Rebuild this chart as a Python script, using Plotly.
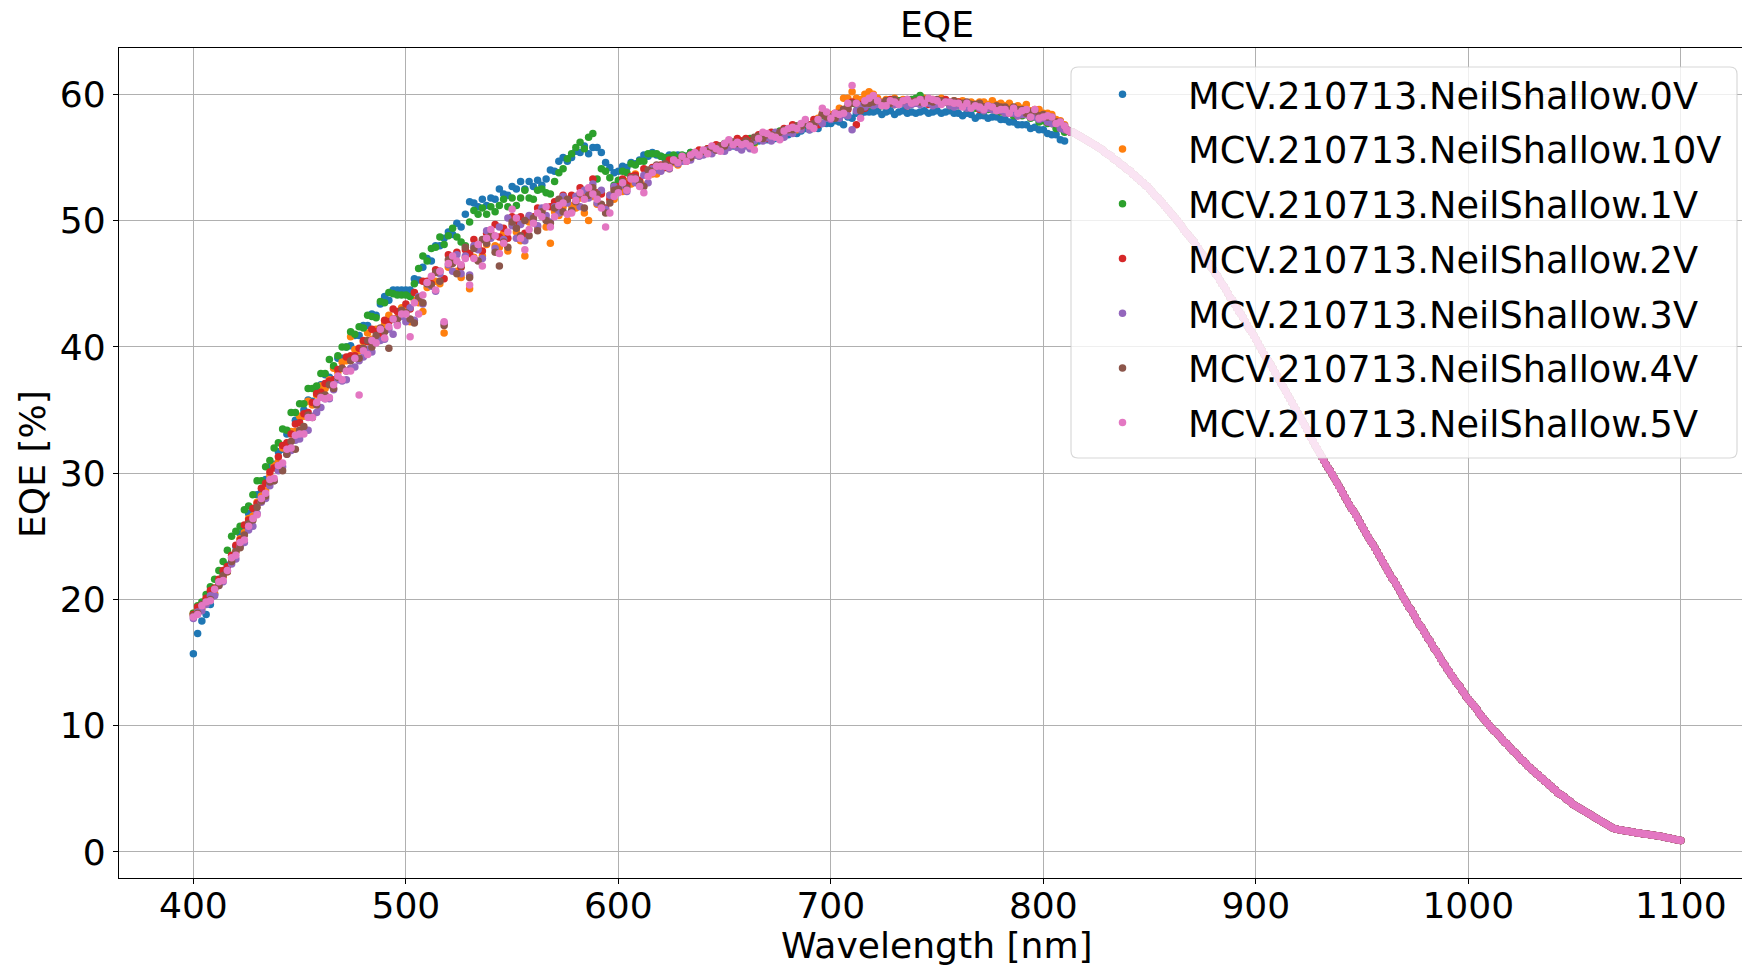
import plotly.graph_objects as go

# ---------------- data ----------------
series_names = [
    "MCV.210713.NeilShallow.0V",
    "MCV.210713.NeilShallow.10V",
    "MCV.210713.NeilShallow.1V",
    "MCV.210713.NeilShallow.2V",
    "MCV.210713.NeilShallow.3V",
    "MCV.210713.NeilShallow.4V",
    "MCV.210713.NeilShallow.5V",
]
series_colors = ["#1f77b4", "#ff7f0e", "#2ca02c", "#d62728", "#9467bd", "#8c564b", "#e377c2"]

# wavelengths of the noisy part (400-810 nm, 2 nm steps) and the smooth tail (811-1100 nm)
wl_head = list(range(400, 811, 2))
wl_tail = list(range(811, 1101))

# central EQE level of the noisy part [%]
eqe_center = [
    18.6, 19.0, 19.4, 19.8, 20.2, 20.7, 21.2, 21.7, 22.3, 23.0,
    23.6, 24.3, 25.0, 25.7, 26.4, 27.1, 27.8, 28.5, 29.2, 29.8,
    30.5, 31.1, 31.7, 32.2, 32.7, 33.2, 33.7, 34.2, 34.7, 35.2,
    35.7, 36.1, 36.5, 36.9, 37.3, 37.7, 38.1, 38.5, 38.9, 39.2,
    39.6, 39.9, 40.2, 40.5, 40.8, 41.1, 41.4, 41.7, 42.0, 42.3,
    42.5, 42.8, 43.1, 43.4, 43.8, 44.2, 44.6, 45.0, 45.4, 45.7,
    46.0, 46.3, 46.5, 46.7, 46.9, 47.2, 47.4, 47.6, 47.8, 48.0,
    48.2, 48.4, 48.6, 48.7, 48.9, 49.1, 49.3, 49.4, 49.6, 49.7,
    49.9, 50.0, 50.2, 50.3, 50.5, 50.6, 50.8, 50.9, 51.1, 51.2,
    51.3, 51.4, 51.5, 51.6, 51.7, 51.8, 51.9, 52.0, 52.2, 52.3,
    52.5, 52.7, 52.9, 53.1, 53.3, 53.4, 53.6, 53.8, 53.9, 54.1,
    54.2, 54.3, 54.5, 54.6, 54.7, 54.8, 54.9, 55.1, 55.2, 55.3,
    55.4, 55.5, 55.6, 55.7, 55.8, 55.9, 56.0, 56.1, 56.1, 56.2,
    56.3, 56.4, 56.5, 56.5, 56.6, 56.7, 56.8, 56.9, 56.9, 57.0,
    57.1, 57.2, 57.3, 57.4, 57.5, 57.6, 57.7, 57.8, 58.0, 58.1,
    58.2, 58.3, 58.4, 58.5, 58.7, 58.8, 58.9, 59.0, 59.1, 59.2,
    59.3, 59.3, 59.3, 59.4, 59.4, 59.4, 59.4, 59.4, 59.4, 59.4,
    59.4, 59.4, 59.4, 59.4, 59.4, 59.4, 59.4, 59.4, 59.3, 59.3,
    59.3, 59.2, 59.2, 59.2, 59.1, 59.1, 59.0, 59.0, 59.0, 58.9,
    58.9, 58.8, 58.8, 58.7, 58.7, 58.6, 58.5, 58.5, 58.4, 58.3,
    58.2, 58.1, 57.9, 57.8, 57.6, 57.4,
]

# per-series scatter of each point around that level (400-810 nm) [% points]
dev_0V = [
    -2.9, -1.7, -1.1, -1.0, -0.6, -0.3, 0.0, 0.2, 0.4, 0.3,
    0.6, 0.9, 0.5, 1.1, 0.8, 1.2, 0.7, 1.0, 1.3, 0.9,
    1.2, 0.8, 1.4, 1.0, 1.5, 1.1, 1.3, 1.6, 1.0, 1.4,
    1.3, 1.7, 1.1, 1.5, 1.8, 1.4, 1.9, 1.6, 2.0, 1.7,
    2.1, 1.8, 2.4, 2.0, 2.6, 2.9, 2.3, 2.8, 2.5, 2.2,
    2.0, 1.7, 2.3, 1.9, 2.5, 2.8, 2.2, 3.0, 2.6, 2.9,
    3.1, 2.6, 3.3, 2.8, 3.6, 4.3, 4.0, 3.5, 3.9, 3.2,
    3.6, 3.3, 3.9, 3.4, 3.1, 3.6, 3.2, 3.7, 2.9, 3.4,
    2.8, 3.2, 2.6, 3.0, 3.5, 3.3, 3.9, 4.1, 3.6, 3.8,
    4.2, 4.0, 4.4, 3.7, 4.1, 4.0, 3.5, 2.6, 2.0, 1.5,
    1.4, 1.6, 1.3, 1.5, 1.2, 1.4, 1.6, 1.3, 1.5, 1.1,
    0.9, 0.6, 0.7, 0.4, 0.5, 0.3, 0.2, 0.3, 0.1, 0.2,
    0.0, 0.1, -0.1, 0.0, -0.2, -0.1, 0.0, -0.2, -0.1, -0.2,
    -0.2, -0.1, -0.3, -0.2, -0.1, -0.3, -0.2, -0.4, -0.2, -0.3,
    -0.3, -0.2, -0.4, -0.3, -0.2, -0.4, -0.3, -0.5, -0.3, -0.4,
    -0.5, -0.4, -0.6, -0.9, -0.5, -0.7, -0.4, -0.6, -0.5, -0.6,
    -0.7, -0.6, -0.9, -0.8, -0.7, -1.0, -0.8, -0.7, -0.9, -0.8,
    -0.9, -0.8, -0.7, -0.9, -0.8, -0.7, -0.9, -0.8, -0.6, -0.8,
    -0.8, -0.9, -0.7, -0.8, -1.0, -0.8, -0.7, -0.9, -0.8, -0.7,
    -0.9, -0.8, -1.0, -0.9, -1.1, -1.0, -0.9, -1.2, -1.0, -1.1,
    -1.0, -1.2, -1.1, -1.0, -1.2, -1.1,
]
dev_10V = [
    0.3, 0.1, -0.1, 0.2, 0.0, -0.2, 0.3, 0.1, -0.1, 0.2,
    0.2, 0.5, 0.3, 0.7, 0.2, 0.6, 0.4, 0.1, 0.6, 0.8,
    0.4, 0.9, 0.3, 1.1, 0.6, 1.3, 0.8, 1.5, 0.7, 1.0,
    1.2, 0.6, 0.9, 1.4, 0.7, 1.1, 0.8, 2.3, 0.9, 0.5,
    0.8, 1.2, 0.4, 0.9, 0.2, 0.7, 1.1, 0.5, 0.3, 0.8,
    0.4, -0.8, 0.6, 0.1, -1.0, 0.5, 0.8, 0.2, -0.4, -4.6,
    0.3, 0.6, -0.5, -1.2, 0.2, -2.6, -0.3, 0.4, -0.6, 0.1,
    0.5, -0.4, -0.7, 0.3, -1.3, 0.6, -0.2, -1.0, -2.4, 0.2,
    0.3, -0.5, 0.5, -0.8, -2.3, 0.1, -0.4, 0.2, -1.1, 0.0,
    -0.3, 0.4, -0.9, -1.6, 0.2, -0.5, 0.3, -1.2, -0.2, -0.6,
    0.1, -0.4, 0.2, -0.2, 0.4, -0.3, -0.8, 0.1, -0.2, -0.4,
    -0.2, 0.1, -0.4, 0.0, -0.3, 0.2, -0.1, -0.2, 0.1, 0.0,
    0.1, 0.0, -0.2, 0.2, 0.0, -0.1, 0.2, 0.1, -0.2, 0.0,
    0.0, -0.2, -0.4, 0.1, 0.2, 0.0, 0.1, -0.2, -0.3, 0.2,
    0.1, 0.3, -0.1, 0.2, 0.3, 0.0, -0.2, 0.3, 0.5, 0.2,
    0.2, 0.1, 0.5, 1.2, 1.0, 1.4, 0.8, 0.6, 0.9, 1.0,
    0.7, 0.4, 0.1, 0.2, 0.0, 0.3, 0.1, 0.2, 0.0, 0.1,
    0.2, 0.1, 0.3, 0.0, 0.2, 0.1, 0.3, 0.1, 0.0, 0.2,
    0.1, 0.3, 0.0, 0.2, 0.1, 0.3, 0.4, 0.2, 0.5, 0.3,
    0.4, 0.3, 0.5, 0.2, 0.4, 0.3, 0.7, 0.2, 0.4, 0.5,
    0.3, 0.4, 0.5, 0.2, 0.3, 0.2,
]
dev_1V = [
    0.3, 0.5, 0.4, 0.6, 0.8, 0.9, 1.1, 1.3, 1.6, 2.0,
    1.8, 1.5, 2.1, 1.7, 1.9, 2.3, 1.6, 2.0, 1.8, 2.2,
    1.9, 2.4, 1.7, 2.6, 2.1, 2.3, 1.8, 2.5, 2.0, 1.7,
    2.2, 1.8, 2.5, 1.6, 2.0, 2.3, 1.9, 2.7, 2.1, 2.4,
    1.9, 2.6, 2.2, 1.8, 2.8, 2.4, 2.9, 2.5, 2.1, 1.8,
    1.6, 1.2, 1.9, 2.8, 3.4, 2.6, 3.2, 2.9, 3.3, 2.4,
    2.8, 3.1, 2.2, 1.6, 1.1, 2.7, 3.4, 2.9, 3.2, 2.5,
    2.9, 2.3, 2.6, 3.0, 2.2, 2.7, 1.9, 2.4, 2.8, 2.1,
    1.8, 2.4, 2.3, 1.9, 1.6, 2.5, 3.0, 3.2, 3.8, 4.1,
    4.5, 4.8, 4.2, 5.0, 5.2, 1.5, 2.2, 1.9, 1.2, 0.5,
    0.7, 1.2, 0.9, 1.4, 1.1, 1.3, 1.1, 1.5, 1.4, 1.2,
    0.9, 0.7, 0.5, 0.6, 0.3, 0.4, 0.2, 0.3, 0.1, 0.2,
    0.1, 0.2, 0.0, 0.1, -0.1, 0.2, 0.0, 0.1, -0.2, 0.1,
    0.0, 0.1, -0.3, 0.2, 0.0, 0.1, -0.1, 0.0, 0.2, -0.1,
    0.1, 0.0, 0.2, -0.1, 0.1, 0.0, -0.2, 0.1, 0.3, 0.0,
    -0.1, 0.1, -0.2, 0.2, 0.4, 0.5, 0.3, 0.0, 0.1, -0.1,
    0.0, -0.1, -0.2, 0.0, -0.1, -0.2, 0.1, -0.1, 0.0, 0.2,
    0.3, 0.5, 0.1, -0.1, 0.0, -0.2, -0.1, 0.0, -0.2, -0.1,
    -0.2, -0.1, -0.3, 0.0, -0.2, -0.1, -0.3, -0.2, 0.0, -0.2,
    -0.3, -0.1, -0.2, -0.4, -0.2, -0.3, -0.1, -0.4, -0.2, -0.5,
    -0.3, -0.4, -0.2, -0.5, -0.3, -0.4,
]
dev_2V = [
    0.2, 0.4, 0.1, 0.3, 0.5, 0.2, 0.4, 0.6, 0.3, 0.5,
    0.7, 0.4, 0.9, 0.6, 0.8, 0.5, 1.0, 0.7, 0.9, 0.6,
    0.8, 1.1, 0.7, 0.9, 1.2, 0.8, 1.0, 0.6, 0.9, 1.1,
    0.7, 1.0, 0.8, 0.5, 0.9, 0.6, 1.1, 0.8, 0.4, 0.7,
    0.9, 0.5, 1.2, 0.7, 0.3, 1.0, 0.6, 1.3, 0.8, 0.4,
    0.9, 0.2, 1.2, 0.5, 1.4, 1.0, 0.4, 1.1, 0.6, -0.3,
    1.3, 0.6, 1.0, -0.4, 0.8, 0.2, 1.1, 0.5, -0.2, 1.0,
    0.8, 1.3, 0.1, 0.7, -0.3, 1.2, 0.5, 0.9, -0.6, 0.6,
    0.4, 1.0, 0.7, -0.2, 0.6, 0.9, 0.2, 1.1, 0.5, 0.8,
    0.6, 1.2, 0.3, 0.9, 1.6, 0.4, 0.2, -1.0, -0.5, 0.3,
    0.2, 0.6, 0.0, 0.4, 0.3, -0.2, 0.5, 0.1, 0.3, 0.0,
    0.2, -0.1, 0.3, 0.1, 0.0, 0.2, -0.2, 0.1, 0.0, 0.3,
    0.0, 0.2, -0.1, 0.3, 0.1, 0.0, 0.2, -0.1, 0.4, 0.1,
    0.2, -0.1, 0.0, 0.3, 0.1, -0.2, 0.2, 0.0, 0.1, 0.3,
    0.0, 0.4, 0.1, -0.1, 0.2, 0.0, 0.3, -0.2, 0.4, 0.1,
    0.0, 0.2, -0.1, 0.3, 0.1, 0.6, -1.3, 0.2, -0.2, 0.3,
    0.2, 0.0, -0.1, 0.1, 0.2, -0.2, 0.0, 0.1, -0.3, 0.0,
    -0.1, 0.1, 0.0, -0.2, 0.1, -0.1, 0.0, 0.2, -0.1, 0.0,
    0.1, -0.1, 0.0, -0.2, 0.1, -0.3, 0.0, -0.1, -0.2, 0.0,
    -0.2, 0.0, -0.3, -0.1, -0.4, -0.2, -0.1, -0.3, 0.0, -0.2,
    -0.1, -0.3, -0.2, 0.0, -0.2, -0.1,
]
dev_3V = [
    -0.1, 0.0, -0.3, -0.2, 0.1, -0.4, -0.1, -0.3, 0.0, -0.2,
    -0.4, -0.1, -0.5, -0.2, -0.6, -0.3, -0.1, -0.5, -0.2, -0.4,
    -0.3, -0.6, -0.2, -0.4, -0.1, -0.5, -0.3, -0.8, -0.2, -0.4,
    -0.5, -0.2, -0.6, -0.3, 0.1, -0.4, -0.7, -0.2, -0.5, -0.3,
    -0.4, -0.1, -0.6, 0.2, -0.3, -0.5, 0.0, -0.7, -0.2, 0.1,
    -0.5, 0.3, -1.0, 0.6, -0.4, 0.8, 0.2, -0.6, 0.4, -3.8,
    0.5, -0.3, 0.8, -0.9, 0.3, -1.5, 0.6, 0.1, -0.8, 1.2,
    0.4, -0.6, 0.9, -0.2, 1.3, 0.5, -0.7, 0.3, -1.2, 0.7,
    0.2, -0.4, 0.8, 0.1, -0.6, 0.5, -0.2, 1.0, 0.3, -0.5,
    0.6, -0.3, 0.9, 0.2, 1.2, -0.4, 0.5, -1.1, -0.2, 0.4,
    -0.2, 0.1, -0.6, 0.3, -0.3, -0.5, 0.0, -0.8, 0.2, -0.1,
    -0.3, 0.0, -0.4, 0.2, -0.2, -0.1, 0.1, -0.3, 0.0, -0.2,
    -0.2, 0.1, -0.3, -0.1, 0.0, -0.4, -0.2, 0.1, -0.3, -0.6,
    -0.4, -0.7, -0.2, 0.0, -0.3, -0.1, -0.5, 0.1, -0.2, -0.4,
    -0.1, -0.3, 0.0, -0.2, 0.2, -0.4, -0.1, 0.1, -0.3, 0.0,
    -0.2, 0.0, -0.3, -0.1, -0.4, -1.6, -0.2, 0.1, -0.1, 0.0,
    -0.2, -0.1, 0.0, -0.3, -0.1, -0.2, 0.0, -0.1, -0.3, -0.2,
    -0.1, -0.2, 0.0, -0.1, -0.3, -0.2, -0.1, 0.0, -0.2, -0.3,
    -0.2, -0.1, -0.3, -0.2, 0.0, -0.2, -0.3, -0.1, -0.2, -0.1,
    -0.2, -0.3, -0.1, -0.2, -0.4, -0.2, -0.1, -0.3, -0.2, -0.3,
    -0.1, -0.3, -0.2, -0.1, -0.3, -0.2,
]
dev_4V = [
    0.1, -0.1, 0.2, 0.0, -0.2, 0.1, -0.1, 0.2, -0.1, 0.0,
    0.2, -0.2, 0.1, 0.3, -0.1, 0.2, 0.0, -0.3, 0.1, -0.4,
    0.1, -0.9, -0.2, 0.3, -0.8, 0.2, 0.0, 0.4, -0.3, 0.2,
    0.4, 0.1, 0.5, -0.2, 0.3, 0.6, 0.0, 0.4, 0.2, -0.1,
    0.3, 0.6, -0.2, 0.4, 0.7, 0.1, -1.5, 0.5, 0.2, 0.6,
    0.2, -0.6, -1.2, 0.5, -0.3, 0.8, 0.3, 0.9, -0.2, -4.0,
    0.9, 0.3, -0.7, -0.3, 1.0, -1.7, 0.4, -0.8, 0.7, 0.2,
    0.6, -0.9, -2.2, -0.4, -1.0, 0.8, 0.1, -0.6, 0.4, -0.9,
    0.3, -0.8, 0.5, -0.3, -0.7, 0.4, 0.9, -0.2, 0.6, -0.4,
    0.2, 0.7, -0.5, 0.4, 0.9, 0.3, -0.6, -1.4, -0.8, 0.1,
    0.0, 0.4, -0.3, 0.3, 0.1, -0.4, -0.9, 0.2, 0.0, 0.3,
    0.1, 0.2, -0.2, 0.1, 0.0, 0.2, 0.1, -0.1, 0.2, 0.0,
    0.1, 0.0, 0.2, -0.1, 0.1, 0.0, 0.2, 0.1, 0.0, -0.1,
    0.0, -0.3, 0.1, 0.2, -0.1, 0.1, 0.0, -0.2, 0.1, 0.2,
    0.1, 0.0, 0.2, 0.1, 0.3, -0.1, 0.0, 0.2, 0.4, 0.1,
    0.0, -0.2, 0.1, 0.3, 0.2, 0.5, 0.4, -0.3, 0.2, 0.1,
    0.1, 0.2, 0.0, 0.1, -0.1, 0.2, 0.0, 0.1, 0.2, 0.0,
    0.1, 0.0, 0.2, 0.1, 0.0, 0.2, 0.1, 0.0, 0.1, 0.2,
    0.0, 0.1, 0.2, 0.0, 0.1, 0.2, 0.0, 0.1, 0.0, 0.2,
    0.1, 0.2, 0.0, 0.3, 0.1, 0.2, 0.0, 0.1, 0.3, 0.0,
    0.2, 0.1, 0.3, 0.0, 0.2, 0.1,
]
dev_5V = [
    0.0, -0.2, 0.1, 0.0, -0.3, 0.1, 0.2, -0.2, 0.0, 0.3,
    -0.1, 0.2, -0.3, 0.1, 0.0, -0.4, 0.2, -0.1, 0.3, -0.2,
    0.1, -0.3, 0.2, -0.2, 0.3, -0.1, -0.6, 0.2, -0.3, 0.4,
    0.3, -0.2, -0.5, 0.1, 0.4, -0.3, 0.0, -0.4, 0.2, -3.0,
    0.1, -0.5, 0.3, -0.2, 0.6, -0.4, 0.2, 0.5, -0.3, 0.3,
    0.1, -2.0, 0.4, -0.8, 0.3, 0.9, 1.0, -0.5, 0.6, -3.7,
    0.6, 0.9, 0.3, -0.2, 0.1, -2.3, -0.4, 0.5, -1.4, 0.6,
    1.1, 0.4, -1.2, -0.5, 0.2, 1.8, 0.9, -0.8, -1.9, -0.4,
    -0.1, 0.6, 0.1, 0.8, -1.0, -0.3, 0.4, 0.5, -0.6, -0.6,
    0.3, 0.8, 0.2, 1.0, 0.4, -0.1, -0.9, -2.5, -1.6, -0.4,
    -0.3, 0.3, -0.5, 0.2, 0.0, -0.7, -1.4, -0.3, -0.1, 0.2,
    0.1, 0.0, -0.3, 0.2, -0.1, 0.3, -0.2, 0.1, 0.2, -0.1,
    0.2, -0.2, 0.3, 0.0, -0.3, 0.2, 0.4, -0.1, 0.1, -0.2,
    -0.2, -0.5, -0.9, 0.0, 0.4, 0.2, -0.1, -0.3, -0.5, 0.1,
    0.2, 0.2, 0.0, 0.3, 0.5, -0.1, -0.4, 0.2, 0.9, 0.5,
    -0.1, 0.2, 0.0, 0.0, 0.6, 1.9, 0.4, -0.9, 0.4, 0.5,
    0.6, 0.2, -0.2, -0.3, 0.1, 0.0, -0.2, 0.1, 0.2, -0.1,
    0.0, 0.2, -0.1, 0.3, 0.2, 0.1, -0.2, 0.0, 0.1, 0.0,
    0.0, -0.2, 0.1, -0.3, 0.0, -0.1, -0.2, 0.1, 0.0, -0.2,
    -0.1, 0.0, -0.3, 0.2, -0.2, 0.1, 0.3, -0.3, 0.4, -0.2,
    0.0, 0.2, 0.3, -0.1, 0.2, 0.1,
]

# smooth tail, 811-1100 nm, where all bias voltages coincide [%]
eqe_tail = [
    57.2, 57.1, 57.0, 57.0, 56.9, 56.8, 56.7, 56.6, 56.5, 56.4,
    56.3, 56.2, 56.1, 56.0, 55.9, 55.8, 55.7, 55.6, 55.4, 55.3,
    55.2, 55.1, 54.9, 54.8, 54.7, 54.5, 54.4, 54.3, 54.1, 54.0,
    53.9, 53.7, 53.6, 53.4, 53.3, 53.1, 53.0, 52.8, 52.7, 52.5,
    52.3, 52.1, 51.9, 51.8, 51.6, 51.4, 51.2, 51.0, 50.8, 50.6,
    50.4, 50.2, 50.0, 49.8, 49.6, 49.3, 49.1, 48.9, 48.7, 48.5,
    48.3, 48.0, 47.8, 47.5, 47.3, 47.1, 46.8, 46.6, 46.3, 46.1,
    45.8, 45.6, 45.3, 45.0, 44.8, 44.5, 44.2, 43.9, 43.7, 43.4,
    43.1, 42.8, 42.6, 42.3, 42.0, 41.7, 41.4, 41.2, 40.9, 40.6,
    40.3, 40.0, 39.7, 39.4, 39.1, 38.9, 38.6, 38.3, 38.0, 37.7,
    37.4, 37.1, 36.8, 36.5, 36.2, 35.9, 35.6, 35.3, 35.0, 34.7,
    34.4, 34.1, 33.8, 33.5, 33.1, 32.8, 32.5, 32.2, 31.9, 31.6,
    31.3, 31.0, 30.7, 30.4, 30.2, 29.9, 29.6, 29.3, 29.0, 28.7,
    28.4, 28.1, 27.8, 27.5, 27.2, 27.0, 26.7, 26.4, 26.1, 25.8,
    25.5, 25.2, 24.9, 24.6, 24.4, 24.1, 23.8, 23.5, 23.2, 22.9,
    22.6, 22.3, 22.0, 21.7, 21.5, 21.2, 20.9, 20.6, 20.3, 20.0,
    19.7, 19.4, 19.2, 18.9, 18.6, 18.3, 18.0, 17.8, 17.5, 17.2,
    16.9, 16.7, 16.4, 16.1, 15.9, 15.6, 15.3, 15.0, 14.8, 14.5,
    14.3, 14.0, 13.8, 13.5, 13.3, 13.1, 12.8, 12.6, 12.3, 12.1,
    11.9, 11.7, 11.5, 11.3, 11.0, 10.8, 10.6, 10.4, 10.2, 10.0,
    9.8, 9.6, 9.5, 9.3, 9.1, 8.9, 8.7, 8.6, 8.4, 8.2,
    8.0, 7.9, 7.7, 7.5, 7.3, 7.2, 7.0, 6.8, 6.7, 6.5,
    6.4, 6.2, 6.1, 5.9, 5.8, 5.6, 5.5, 5.3, 5.2, 5.0,
    4.9, 4.7, 4.6, 4.5, 4.4, 4.2, 4.1, 4.0, 3.8, 3.7,
    3.6, 3.5, 3.4, 3.3, 3.2, 3.1, 3.0, 2.9, 2.8, 2.7,
    2.6, 2.5, 2.4, 2.3, 2.2, 2.1, 2.0, 1.9, 1.85, 1.8,
    1.77, 1.74, 1.71, 1.68, 1.65, 1.62, 1.59, 1.56, 1.53, 1.5,
    1.48, 1.45, 1.43, 1.40, 1.38, 1.35, 1.33, 1.30, 1.28, 1.25,
    1.22, 1.18, 1.15, 1.11, 1.08, 1.04, 1.01, 0.97, 0.94, 0.9,
]

series_devs = [dev_0V, dev_10V, dev_1V, dev_2V, dev_3V, dev_4V, dev_5V]

x_tick_vals = [400, 500, 600, 700, 800, 900, 1000, 1100]
y_tick_vals = [0, 10, 20, 30, 40, 50, 60]

# ---------------- figure ----------------
W, H = 1742, 967
PLOT_L, PLOT_T, PLOT_B = 119, 48, 878          # pixels of the axes box
ML, MT, MR = PLOT_L, PLOT_T, 0
MB = H - PLOT_B
PW, PH = W - ML - MR, H - MT - MB
FONT = "DejaVu Sans"
FS = 36.1
FS_LEG = 36.7

fig = go.Figure()
wl_all = wl_head + wl_tail
for name, color, dev in zip(series_names, series_colors, series_devs):
    y_head = [round(c + d, 2) for c, d in zip(eqe_center, dev)]
    fig.add_trace(go.Scatter(
        x=wl_all, y=y_head + eqe_tail, mode="markers", name=name,
        legendgroup=name,
        marker=dict(color=color, size=7.5, line=dict(width=0)),
    ))


def px_x(sx):
    return (sx - ML) / PW


def px_y(sy):
    return (MT + PH - sy) / PH


# rounded, semi-transparent legend frame (matplotlib style)
bx0, by0, bx1, by1, rad = 1071, 67, 1737, 458, 7
rx, ry = rad / PW, rad / PH
X0, X1 = px_x(bx0), px_x(bx1)
Y0, Y1 = px_y(by1), px_y(by0)      # bottom, top in paper units
legend_frame = (
    f"M {X0 + rx},{Y1} L {X1 - rx},{Y1} Q {X1},{Y1} {X1},{Y1 - ry} "
    f"L {X1},{Y0 + ry} Q {X1},{Y0} {X1 - rx},{Y0} "
    f"L {X0 + rx},{Y0} Q {X0},{Y0} {X0},{Y0 + ry} "
    f"L {X0},{Y1 - ry} Q {X0},{Y1} {X0 + rx},{Y1} Z"
)

fig.update_layout(
    width=W, height=H,
    margin=dict(l=ML, r=MR, t=MT, b=MB, autoexpand=False),
    paper_bgcolor="white", plot_bgcolor="white",
    font=dict(family=FONT, size=FS, color="black"),
    showlegend=True,
    legend=dict(
        x=px_x(1057), y=px_y(64), xanchor="left", yanchor="top",
        bgcolor="rgba(0,0,0,0)", borderwidth=0,
        font=dict(family=FONT, size=FS_LEG, color="black"),
        itemwidth=121, tracegroupgap=4, traceorder="grouped",
    ),
    shapes=[
        dict(type="path", xref="paper", yref="paper", path=legend_frame, layer="above",
             fillcolor="rgba(255,255,255,0.8)", line=dict(color="rgba(204,204,204,0.8)", width=1.1)),
    ],
    xaxis=dict(
        range=[365.0, 1128.8], tickmode="array", tickvals=x_tick_vals,
        ticktext=[str(v) for v in x_tick_vals],
        showgrid=True, gridcolor="#b0b0b0", gridwidth=1.1,
        showline=True, linecolor="black", linewidth=1.1, mirror=True,
        ticks="outside", ticklen=5, tickwidth=1.1, tickcolor="black",
        ticklabelstandoff=-9,
        zeroline=False, tickfont=dict(family=FONT, size=FS, color="black"),
    ),
    yaxis=dict(
        range=[-2.06, 63.67], tickmode="array", tickvals=y_tick_vals,
        ticktext=[str(v) for v in y_tick_vals],
        showgrid=True, gridcolor="#b0b0b0", gridwidth=1.1,
        showline=True, linecolor="black", linewidth=1.1, mirror=False,
        ticks="outside", ticklen=5, tickwidth=1.1, tickcolor="black",
        zeroline=False, tickfont=dict(family=FONT, size=FS, color="black"),
    ),
    annotations=[
        dict(text="EQE", xref="paper", yref="paper", x=px_x(937), y=px_y(25),
             xanchor="center", yanchor="middle", showarrow=False,
             font=dict(family=FONT, size=FS, color="black")),
        dict(text="Wavelength [nm]", xref="paper", yref="paper", x=px_x(937), y=px_y(946),
             xanchor="center", yanchor="middle", showarrow=False,
             font=dict(family=FONT, size=FS, color="black")),
        dict(text="EQE [%]", xref="paper", yref="paper", x=px_x(33), y=px_y(464),
             xanchor="center", yanchor="middle", showarrow=False, textangle=-90,
             font=dict(family=FONT, size=FS, color="black")),
    ],
)

# the page should show the figure edge to edge, without body margin or scrollbars
page_js = (
    "document.documentElement.style.overflow='hidden';"
    "document.body.style.margin='0';"
    "document.body.style.overflow='hidden';"
)
fig.write_html("out.html", post_script=page_js, config={"displayModeBar": False})
